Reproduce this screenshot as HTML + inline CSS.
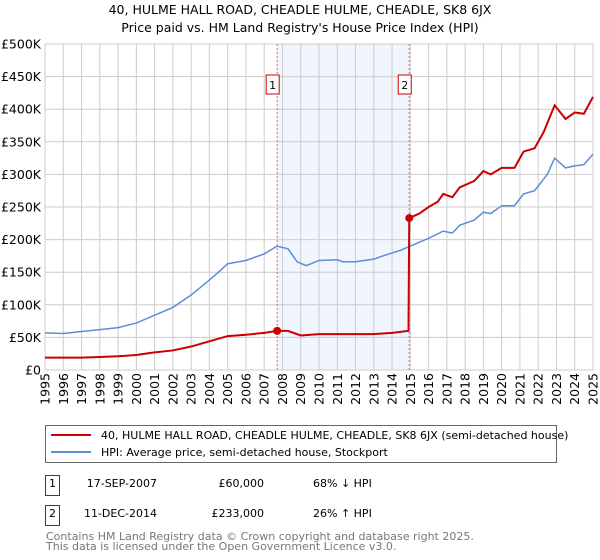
<!DOCTYPE html>
<html><head><meta charset="utf-8"><style>
body{margin:0;background:#fff;}
svg{display:block;font-family:"DejaVu Sans","Liberation Sans",sans-serif;}
</style></head><body>
<svg id="c" width="600" height="560">
<text x="300" y="14" text-anchor="middle" font-size="12.5">40, HULME HALL ROAD, CHEADLE HULME, CHEADLE, SK8 6JX</text>
<text x="300" y="32" text-anchor="middle" font-size="12.5">Price paid vs. HM Land Registry's House Price Index (HPI)</text>
<g id="grid"></g>
<g id="marks"></g>
<g>
<rect x="45.5" y="425.5" width="511" height="37" fill="#fff" stroke="#666"/>
<line x1="51" y1="435" x2="91" y2="435" stroke="#cc0000" stroke-width="2"/>
<text x="101" y="439" font-size="11">40, HULME HALL ROAD, CHEADLE HULME, CHEADLE, SK8 6JX (semi-detached house)</text>
<line x1="51" y1="452" x2="91" y2="452" stroke="#5b8ed6" stroke-width="2"/>
<text x="101" y="456" font-size="11">HPI: Average price, semi-detached house, Stockport</text>
</g>
<g font-size="11">
<rect x="45.5" y="475.5" width="14" height="20" fill="none" stroke="#cc0000"/>
<text x="52.5" y="487" text-anchor="middle">1</text>
<text x="157" y="487" text-anchor="end">17-SEP-2007</text>
<text x="264" y="487" text-anchor="end">£60,000</text>
<text x="313" y="487">68% ↓ HPI</text>
<rect x="45.5" y="505.5" width="14" height="20" fill="none" stroke="#cc0000"/>
<text x="52.5" y="517" text-anchor="middle">2</text>
<text x="157" y="517" text-anchor="end">11-DEC-2014</text>
<text x="264" y="517" text-anchor="end">£233,000</text>
<text x="313" y="517">26% ↑ HPI</text>
</g>
<text x="46" y="540" font-size="11" fill="#777">Contains HM Land Registry data © Crown copyright and database right 2025.</text>
<text x="46" y="550" font-size="11" fill="#777">This data is licensed under the Open Government Licence v3.0.</text>
</svg>
<script>
const yTicks=[0,50,100,150,200,250,300,350,400,450,500];
const yTickLabels=["£0","£50K","£100K","£150K","£200K","£250K","£300K","£350K","£400K","£450K","£500K"];
const xYears=[1995,1996,1997,1998,1999,2000,2001,2002,2003,2004,2005,2006,2007,2008,2009,2010,2011,2012,2013,2014,2015,2016,2017,2018,2019,2020,2021,2022,2023,2024,2025];
const hpiT=[1995,1996,1997,1998,1999,2000,2001,2002,2003,2004,2004.5,2005,2006,2007,2007.7,2008.3,2008.8,2009.3,2010,2011,2011.3,2012,2013,2013.5,2014.5,2015,2016,2016.8,2017.3,2017.7,2018.5,2019,2019.4,2020,2020.7,2021.2,2021.8,2022.5,2022.9,2023.5,2024,2024.5,2025];
const hpiV=[57,56,59,62,65,72,84,96,115,138,150,163,168,178,190,186,166,160,168,169,166,166,170,175,184,190,202,213,210,222,230,242,240,252,252,270,275,300,325,310,313,315,331];
const redT=[1995,1996,1997,1998,1999,2000,2001,2002,2003,2004,2005,2006,2007,2007.71,2008.3,2009,2010,2011,2012,2013,2014,2014.9,2014.94,2015.5,2016,2016.5,2016.8,2017.3,2017.7,2018.5,2019,2019.4,2020,2020.7,2021.2,2021.8,2022.3,2022.9,2023.5,2024,2024.5,2025];
const redV=[19,19,19,20,21,23,27,30,36,44,52,54,57,60,60,53,55,55,55,55,57,60,233,240,250,258,270,265,280,290,305,300,310,310,335,340,365,406,385,395,393,419];
const saleT=[2007.71,2014.94];
const saleV=[60,233];
const saleLabels=["1","2"];
const X0=45,X1=593,Y0=370,Y1=44;
const x=t=>X0+(t-1995)/(2025-1995)*(X1-X0);
const y=v=>Y0-v/500*(Y0-Y1);
const NS="http://www.w3.org/2000/svg";
function mk(tag,at,parent){const e=document.createElementNS(NS,tag);for(const k in at)e.setAttribute(k,at[k]);parent.appendChild(e);return e;}
const g=document.getElementById('grid'),m=document.getElementById('marks');
let shade=mk('rect',{x:x(saleT[0]),y:Y1,width:x(saleT[1])-x(saleT[0]),height:Y0-Y1,fill:'#eef3fc',opacity:0.8},g);


yTicks.forEach((v,i)=>{
 let l=mk('line',{x1:X0,x2:X1,y1:y(v),y2:y(v),stroke:'#ccc'},g);
 
 
 let t=mk('text',{x:X0-4,y:y(v)+4.5,'text-anchor':'end','font-size':12.5},g);
 t.textContent=yTickLabels[i];
 
 
});
xYears.forEach(yr=>{
 let l=mk('line',{x1:x(yr),x2:x(yr),y1:Y1,y2:Y0,stroke:'#ccc'},g);
 
 
 let t=mk('text',{x:0,y:0,'text-anchor':'end','font-size':12.5,transform:`translate(${x(yr)+4.5},${Y0+3}) rotate(-90)`},g);
 t.textContent=yr;
 
 
});
let fr=mk('rect',{x:X0,y:Y1,width:X1-X0,height:Y0-Y1,fill:'none',stroke:'#ccc'},g);


saleT.forEach((t,i)=>{
 let l=mk('line',{x1:x(t),x2:x(t),y1:Y1,y2:Y0,stroke:'#e06666','stroke-dasharray':'2,2'},m);
 
 
 let r=mk('rect',{x:x(t)-11,y:75,width:13,height:19,fill:'#fff',stroke:'#cc0000'},m);
 
 
 let tx=mk('text',{x:x(t)-4.5,y:89,'text-anchor':'middle','font-size':11},m);
 tx.textContent=saleLabels[i];
 
 
});
let hp=mk('polyline',{points:hpiT.map((t,i)=>x(t)+','+y(hpiV[i])).join(' '),fill:'none',stroke:'#5b8ed6','stroke-width':1.5},m);


let rp=mk('polyline',{points:redT.map((t,i)=>x(t)+','+y(redV[i])).join(' '),fill:'none',stroke:'#cc0000','stroke-width':2},m);


saleT.forEach((t,i)=>{
 let c=mk('circle',{cx:x(t),cy:y(saleV[i]),r:4,fill:'#cc0000'},m);
 
 
});
</script>
</body></html>
